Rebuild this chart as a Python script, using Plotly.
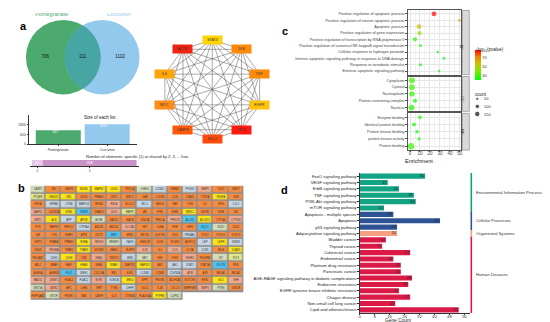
import math
import numpy as np
import plotly.graph_objects as go

W, H = 550, 322
FONT = "Arial, Liberation Sans, sans-serif"


def dom_x(a, b):
    return [a / W, b / W]


def dom_y(top, bottom):
    return [1 - bottom / H, 1 - top / H]


def pxp(x, y):
    return x / W, 1 - y / H


# ---------------- Panel a data ----------------
venn_names = ["Pomegranate", "Curcumin"]
venn_only = [706, 1102]
venn_shared = 211
list_sizes = [917, 1313]
spec_tick_labels = ["2", "1"]
spec_counts = [211, 1808]
venn_colors = ["#4DAA6E", "#93C9EC"]
venn_overlap_color = "#47A6A3"
spec_colors = ["#E6C6E4", "#C993C7"]

# ---------------- Panel b data ----------------
genes = [
    "CASP1", "BID", "CASP8", "MDM2", "MAPK3", "CDK4", "PIK3CA", "CHEK1", "CCND1", "ERBB2", "PTGS2", "MMP9", "CDK2", "MMP2",
    "PTGER", "HMOX1", "SRC", "NOS3", "PPARG", "GPX1", "BIRC5", "XIAP", "CXCR4", "CD44", "ICAM1", "TOP2A", "VEGFA", "KDR",
    "HIF1A", "HSPA5", "CTNB", "MAPK14", "NFKB1", "RELA", "BCL2L1", "MCL1", "FASLG", "FAS", "TLR4", "IL2", "IFNG", "CCL2",
    "MAPK1", "CDKN1A", "ESR1", "TGFB1", "SMAD3", "CDK1", "PARP1", "AR", "PGR", "ESR2", "NR3C1", "IGF1R", "INSR", "INS",
    "SIRT1", "ALB", "APP", "APOE", "ACHE", "BACE1", "MAOB", "GSK3A", "PRKCA", "PRKCB", "ALOX5", "ALOX15", "CYP1A1", "CYP1B1",
    "FOS", "MAPK8", "NFE2L2", "CYP3A4", "ABCB1", "ABCG2", "SLC2A1", "HK2", "LDHA", "PKM", "G6PD", "NQO1", "SOD1", "SOD2",
    "CAT", "TXN", "KEAP1", "ATF4", "DDIT3", "XBP1", "ERN1", "BECN1", "SQSTM1", "ULK1", "PRKAA1", "STK11", "FOXO1", "FOXO3",
    "SIRT3", "PPARA", "PPARD", "RXRA", "NR1H3", "SREBF1", "FASN", "HMGCR", "LDLR", "PCSK9", "ADIPOQ", "LEP", "LEPR", "IKBKB",
    "CHUK", "NFKBIA", "TRAF2", "TRAF6", "MYD88", "IRAK4", "NLRP3", "IL18", "IL4", "IL13", "IL17A", "CCR5", "SELE", "VCAM1",
    "PECAM1", "CDH1", "CDH2", "VIM", "SNAI1", "TWIST1", "ZEB1", "MET", "HGF", "FGF2", "FGFR1", "PDGFRB", "KIT", "FLT3",
    "ABL1", "BRAF", "RAF1", "HRAS", "KRAS", "NRAS", "MAP2K1", "MAP2K2", "JAK2", "JAK1", "STAT1", "STAT5A", "SOCS3", "PIM1",
    "AURKA", "AURKB", "PLK1", "WEE1", "CDC25A", "RB1", "E2F1", "CCNE1", "CCNB1", "CDKN2A", "ATM", "ATR", "BRCA1", "BRCA2",
    "RAD51", "DNMT1", "HDAC1", "HDAC2", "EZH2", "KDM1A", "BRD4", "SPP1", "PROM1", "ALDH1A1", "NOTCH1", "HES1", "GLI1", "SHH",
    "WNT3A", "AXIN2", "APC", "LGR5", "TERT", "TYMS", "DHFR", "ODC1", "IL1B", "CXCL8", "SERPINE1", "MMP3", "PTEN", "GSK3B",
    "HSP90AA1", "MTOR", "PIK3R1", "BAX", "CASP9", "IL10", "CTNNB1", "PLA2G4A", "PTPRB", "CDPK1",
]
gene_class_rows = [
    "GOOYYYOGBOBSOO",
    "PYYOOOOOOOOOYO",
    "OBBBOSOBOOOOOB",
    "SOYCOSPOOOYOOO",
    "SYBYGOOOOSCYOS",
    "OOOBOOSOOOOCGO",
    "OOOOOCOOOOBOOO",
    "OOOYSGBOOOOBYB",
    "OSOYOOOSOSOBOY",
    "OBYOSOBGOOSOGP",
    "OOOYOYOYOBBOCO",
    "OOCBOOOBOBSOOO",
    "SSOBSBYOOOOOYS",
    "GSOOOOBOOOOSGO",
    "OGOOOOOOYG",
]
class_keys = ["O", "S", "B", "G", "Y", "C", "P"]
class_colors = ["#FA8A3C", "#F5A98B", "#C6D6E4", "#D5DDB8", "#FFE414", "#4EC3EE", "#E2E68C"]

# ---------------- Panel c (network) data ----------------
hub_genes = ["STAT3", "JUN", "TNF", "EGFR", "TP53", "BCL2", "CASP3", "MYC", "IL6", "ACTB"]
hub_colors = ["#FFD400", "#FF8A0A", "#FF8A0A", "#FFC20A", "#FF1A10", "#FF4A0A", "#FF5A0A", "#FF8C1A", "#FFA50A", "#EE2410"]

# ---------------- Panel c (GO) data ----------------
bp_terms = [
    "Positive regulation of apoptotic process",
    "Positive regulation of neuron apoptotic process",
    "Apoptotic process",
    "Positive regulation of gene expression",
    "Positive regulation of transcription by RNA polymerase II",
    "Positive regulation of canonical NF-kappaB signal transduction",
    "Cellular response to hydrogen peroxide",
    "Intrinsic apoptotic signaling pathway in response to DNA damage",
    "Response to xenobiotic stimulus",
    "Extrinsic apoptotic signaling pathway",
]
bp_enrich = [24, 49.5, 9, 9.5, 5, 10.5, 28, 34, 10.5, 29]
bp_logp = [88, 62, 58, 47, 27, 22, 21, 21, 24, 21]
bp_count = [110, 40, 115, 90, 85, 40, 35, 35, 50, 35]

cc_terms = ["Cytoplasm", "Cytosol", "Nucleoplasm", "Protein-containing complex", "Nucleus"]
cc_enrich = [2, 2, 2, 5, 1.5]
cc_logp = [28, 30, 27, 22, 26]
cc_count = [170, 165, 140, 75, 160]

mf_terms = ["Enzyme binding", "Identical protein binding", "Protein kinase binding", "protein kinase activity", "Protein binding"]
mf_enrich = [10, 4, 7, 9, 1]
mf_logp = [25, 24, 22, 22, 30]
mf_count = [70, 75, 55, 55, 210]

size_legend_counts = [50, 100, 150]
logp_ticks = [30, 50, 70]

# ---------------- Panel d data ----------------
pathways = [
    "FoxO signaling pathway", "VEGF signaling pathway", "ErbB signaling pathway", "TNF signaling pathway",
    "PI3K-Akt signaling pathway", "mTOR signaling pathway", "Apoptosis - multiple species", "Apoptosis",
    "p53 signaling pathway", "Adipocytokine signaling pathway", "Bladder cancer", "Thyroid cancer",
    "Colorectal cancer", "Endometrial cancer", "Platinum drug resistance", "Pancreatic cancer",
    "AGE-RAGE signaling pathway in diabetic complications", "Endocrine resistance",
    "EGFR tyrosine kinase inhibitor resistance", "Chagas disease", "Non-small cell lung cancer",
    "Lipid and atherosclerosis",
]
pathway_counts = [35, 15, 21, 29, 30, 13, 18, 43, 20, 20, 14, 12, 27, 18, 22, 22, 28, 26, 21, 27, 19, 53]
pathway_groups = ["Environmental Information Processing"] * 6 + ["Cellular Processes"] * 3 + \
    ["Organismal Systems"] + ["Human Diseases"] * 12
group_order = ["Environmental Information Processing", "Cellular Processes", "Organismal Systems", "Human Diseases"]
group_colors = {"Environmental Information Processing": "#12A383", "Cellular Processes": "#2E5395",
                "Organismal Systems": "#F7A07F", "Human Diseases": "#DC1A48"}
count_ticks = [0, 8, 16, 24, 32, 40, 48, 56]

# ======================================================================
fig = go.Figure()
shapes = []
annotations = []
layout_axes = {}

# ---------- a: Venn ----------
R = 1.0
dcent = 1.04
for i, (cx, col) in enumerate([(0.0, venn_colors[0]), (dcent, venn_colors[1])]):
    shapes.append(dict(type="circle", xref="x", yref="y", x0=cx - R, x1=cx + R, y0=-R, y1=R,
                       fillcolor=col, line=dict(width=0), layer="below"))
xi = dcent / 2
yi = math.sqrt(R * R - xi * xi)
t1 = math.atan2(yi, xi)
t2 = math.atan2(yi, xi - dcent)
pts = []
for t in np.linspace(-t1, t1, 40):
    pts.append((R * math.cos(t), R * math.sin(t)))
for t in np.linspace(t2, 2 * math.pi - t2, 40):
    pts.append((dcent + R * math.cos(t), R * math.sin(t)))
path = "M " + " L ".join(f"{x:.4f},{y:.4f}" for x, y in pts) + " Z"
shapes.append(dict(type="path", xref="x", yref="y", path=path, fillcolor=venn_overlap_color,
                   line=dict(width=0), layer="below"))
fig.add_trace(go.Scatter(x=[(-R + dcent - R) / 2, dcent / 2, (R + dcent + R) / 2], y=[0, 0, 0],
                         text=[str(venn_only[0]), str(venn_shared), str(venn_only[1])],
                         mode="text", textfont=dict(size=4.5, color="#111", family=FONT),
                         xaxis="x", yaxis="y", showlegend=False, hoverinfo="skip"))
fig.add_trace(go.Scatter(x=[-0.31, dcent + 0.44], y=[1.13, 1.13], text=venn_names, mode="text",
                         textfont=dict(size=5.5, color=[venn_colors[0], venn_colors[1]], family=FONT),
                         xaxis="x", yaxis="y", showlegend=False, hoverinfo="skip"))
unit = 37.5
layout_axes["xaxis"] = dict(domain=dom_x(5, 140), range=[-49.5 / unit, 85.5 / unit], visible=False, fixedrange=True)
layout_axes["yaxis"] = dict(domain=dom_y(5, 95), range=[-45.5 / unit, 44.5 / unit], visible=False, fixedrange=True)

# ---------- a: size of each list ----------
fig.add_trace(go.Bar(x=venn_names, y=list_sizes, marker=dict(color=venn_colors, line=dict(width=0)),
                     width=0.92, xaxis="x2", yaxis="y2", showlegend=False, hoverinfo="skip"))
fig.add_trace(go.Scatter(x=venn_names, y=list_sizes, mode="text", text=[str(v) for v in list_sizes],
                         textposition="bottom left", textfont=dict(size=3.5, color="white", family=FONT),
                         xaxis="x2", yaxis="y2", showlegend=False, hoverinfo="skip"))
layout_axes["xaxis2"] = dict(domain=dom_x(20, 128), range=[-0.6, 1.6], showline=True, linecolor="#333",
                             linewidth=0.6, ticks="outside", ticklen=1.5, tickcolor="#333",
                             tickfont=dict(size=3.5, color="#333", family=FONT), anchor="y2")
layout_axes["yaxis2"] = dict(domain=dom_y(108, 137), range=[0, 1900], showline=True, linecolor="#333",
                             linewidth=0.6, tickvals=[0, 650, 1300], ticks="outside", ticklen=1.5,
                             tickcolor="#333", showgrid=False, zeroline=False,
                             tickfont=dict(size=3.5, color="#333", family=FONT), anchor="x2")
annotations.append(dict(text="Size of each list", x=pxp(73, 110)[0], y=pxp(73, 110)[1], xref="paper",
                        yref="paper", showarrow=False, font=dict(size=4.5, color="#222", family=FONT)))

# ---------- a: specific/shared ----------
base = 0
centers = []
for lab, v, c in zip(spec_tick_labels, spec_counts, spec_colors):
    fig.add_trace(go.Bar(y=[0], x=[v], base=[base], orientation="h", marker=dict(color=c, line=dict(width=0)),
                         width=1.0, xaxis="x3", yaxis="y3", showlegend=False, hoverinfo="skip"))
    centers.append(base + v / 2)
    base += v
fig.add_trace(go.Scatter(x=centers, y=[0, 0], mode="text", text=[str(v) for v in spec_counts],
                         textfont=dict(size=3, color="white", family=FONT),
                         xaxis="x3", yaxis="y3", showlegend=False, hoverinfo="skip"))
layout_axes["xaxis3"] = dict(domain=dom_x(21, 130), range=[-38, sum(spec_counts) + 38], showline=True,
                             linecolor="#333", linewidth=0.5, tickvals=centers, ticktext=spec_tick_labels,
                             ticks="outside", ticklen=1.5, tickcolor="#333", showgrid=False, zeroline=False,
                             tickfont=dict(size=3.5, color="#333", family=FONT), anchor="y3")
layout_axes["yaxis3"] = dict(domain=dom_y(153, 159), range=[-0.5, 0.5], visible=False, anchor="x3")
annotations.append(dict(text="Number of elements: specific (1) or shared by 2, 3, ... lists",
                        x=pxp(75, 149)[0], y=pxp(75, 149)[1], xref="paper", yref="paper", showarrow=False,
                        font=dict(size=4, color="#222", family=FONT)))

# ---------- b: gene grid ----------
ncol = 14
nrow = len(gene_class_rows)
z = []
txt = []
gi = 0
for r, row in enumerate(gene_class_rows):
    zr, tr = [], []
    for c in range(ncol):
        if c < len(row):
            zr.append(class_keys.index(row[c]))
            tr.append(genes[gi] if gi < len(genes) else "")
            gi += 1
        else:
            zr.append(None)
            tr.append("")
    z.append(zr)
    txt.append(tr)
ncls = len(class_colors)
cscale = []
for k, col in enumerate(class_colors):
    cscale.append([k / ncls, col])
    cscale.append([(k + 1) / ncls, col])
fig.add_trace(go.Heatmap(z=z, text=txt, texttemplate="%{text}", textfont=dict(size=2.6, color="#333", family=FONT),
                         colorscale=cscale, zmin=-0.5, zmax=ncls - 0.5, showscale=False, xgap=1.6, ygap=1.6,
                         xaxis="x4", yaxis="y4", hoverinfo="skip"))
last_len = len(gene_class_rows[-1])
shapes.append(dict(type="rect", xref="x4", yref="y4", x0=-0.5, x1=ncol - 0.5, y0=-0.5, y1=nrow - 1.5,
                   fillcolor="#8C8C8C", line=dict(width=0), layer="below"))
shapes.append(dict(type="rect", xref="x4", yref="y4", x0=-0.5, x1=last_len - 0.5, y0=nrow - 1.5, y1=nrow - 0.5,
                   fillcolor="#8C8C8C", line=dict(width=0), layer="below"))
layout_axes["xaxis4"] = dict(domain=dom_x(21, 236), range=[-0.55, ncol - 0.45], visible=False, anchor="y4")
layout_axes["yaxis4"] = dict(domain=dom_y(178.5, 294), range=[nrow - 0.45, -0.55], visible=False, anchor="x4")

# ---------- c: network ----------
nn = len(hub_genes)
angles = [math.pi / 2 - 2 * math.pi * k / nn for k in range(nn)]
nx_ = [math.cos(a) for a in angles]
ny_ = [math.sin(a) for a in angles]
ex, ey = [], []
for i in range(nn):
    for j in range(i + 1, nn):
        ex += [nx_[i], nx_[j], None]
        ey += [ny_[i], ny_[j], None]
fig.add_trace(go.Scatter(x=ex, y=ey, mode="lines", line=dict(color="#555", width=0.5),
                         xaxis="x5", yaxis="y5", showlegend=False, hoverinfo="skip"))
for g, c, x, y in zip(hub_genes, hub_colors, nx_, ny_):
    annotations.append(dict(text=g, x=x, y=y, xref="x5", yref="y5", showarrow=False, bgcolor=c,
                            width=19, height=8, borderpad=0, font=dict(size=3.6, color="#333", family=FONT)))
layout_axes["xaxis5"] = dict(domain=dom_x(144, 264), range=[-1.2, 1.2], visible=False, anchor="y5")
layout_axes["yaxis5"] = dict(domain=dom_y(22, 142), range=[-1.2, 1.2], visible=False, anchor="x5")

# ---------- c: GO dot plot ----------
CMIN, CMAX = 20, 88
go_scale = [[0, "#00FF00"], [0.3, "#7FE800"], [0.55, "#C8C000"], [0.78, "#F08000"], [1, "#FF0000"]]


def dot_size(v):
    return 0.45 * math.sqrt(v)


facets = [("BP", bp_terms, bp_enrich, bp_logp, bp_count, 2.5, 67),
          ("CC", cc_terms, cc_enrich, cc_logp, cc_count, 69, 104),
          ("MF", mf_terms, mf_enrich, mf_logp, mf_count, 106, 143)]
for k, (name, terms, en, lp, cnt, top, bot) in enumerate(facets):
    xa = f"x{6 + k}"
    ya = f"y{6 + k}"
    fig.add_trace(go.Scatter(
        x=en, y=terms, mode="markers",
        marker=dict(size=[dot_size(v) for v in cnt], color=lp, colorscale=go_scale, cmin=CMIN, cmax=CMAX,
                    line=dict(width=0), showscale=(k == 0),
                    colorbar=dict(x=pxp(468, 0)[0], xanchor="left", y=pxp(0, 42)[1], yanchor="top",
                                  len=30, lenmode="pixels", thickness=6, thicknessmode="pixels",
                                  tickvals=logp_ticks, ticks="", outlinewidth=0,
                                  tickfont=dict(size=4, color="#333", family=FONT),
                                  xpad=0, ypad=0)),
        xaxis=xa, yaxis=ya, showlegend=False, hoverinfo="skip"))
    n = len(terms)
    layout_axes[f"xaxis{6 + k}"] = dict(
        domain=dom_x(400, 454), range=[-2.5, 51.5], anchor=ya, showline=True, mirror=True,
        linecolor="#555", linewidth=0.6, showgrid=True, gridcolor="#E6E6E6", gridwidth=0.5,
        tickvals=[0, 10, 20, 30, 40, 50], zeroline=False,
        minor=dict(tickvals=[5, 15, 25, 35, 45], showgrid=True, gridcolor="#F2F2F2", gridwidth=0.4),
        showticklabels=(k == 2), ticks="outside" if k == 2 else "", ticklen=1, tickcolor="#555",
        ticklabelstandoff=-2,
        tickfont=dict(size=4.5, color="#444", family=FONT))
    layout_axes[f"yaxis{6 + k}"] = dict(
        domain=dom_y(top, bot), range=[n - 0.45, -0.55], anchor=xa, showline=True, mirror=True,
        linecolor="#555", linewidth=0.6, showgrid=True, gridcolor="#E6E6E6", gridwidth=0.5,
        ticks="outside", ticklen=1.5, tickcolor="#555", type="category",
        tickfont=dict(size=3.8, color="#444", family=FONT))
    shapes.append(dict(type="rect", xref="paper", yref="paper", x0=455 / W, x1=462 / W,
                       y0=1 - bot / H, y1=1 - top / H, fillcolor="#D9D9D9", line=dict(color="#666", width=0.5)))
    annotations.append(dict(text=name, x=458.5 / W, y=1 - (top + bot) / 2 / H, xref="paper", yref="paper",
                            showarrow=False, textangle=90, font=dict(size=3.8, color="#333", family=FONT)))
annotations.append(dict(text="Enrichment", x=428 / W, y=1 - 153.5 / H, xref="paper", yref="paper",
                        showarrow=False, font=dict(size=5.5, color="#222", family=FONT)))
annotations.append(dict(text="-log<sub>10</sub>(pvalue)", x=467 / W, y=1 - 37 / H, xref="paper", yref="paper",
                        xanchor="left", showarrow=False, font=dict(size=4.5, color="#222", family=FONT)))

# size legend
fig.add_trace(go.Scatter(x=[0, 0, 0], y=[0, 1, 2], mode="markers",
                         marker=dict(size=[dot_size(v) for v in size_legend_counts], color="#111"),
                         xaxis="x10", yaxis="y10", showlegend=False, hoverinfo="skip"))
for i, v in enumerate(size_legend_counts):
    annotations.append(dict(text=str(v), x=0.9, y=i, xref="x10", yref="y10", xanchor="left", showarrow=False,
                            borderpad=0, font=dict(size=4, color="#333", family=FONT)))
layout_axes["xaxis10"] = dict(domain=dom_x(467, 500), range=[-0.5, 5], visible=False, anchor="y10")
layout_axes["yaxis10"] = dict(domain=dom_y(87.5, 110.5), range=[2.5, -0.5], visible=False, anchor="x10")
annotations.append(dict(text="count", x=467 / W, y=1 - 84 / H, xref="paper", yref="paper", xanchor="left",
                        borderpad=0, showarrow=False, font=dict(size=4.5, color="#222", family=FONT)))

# ---------- d: KEGG bars ----------
bar_cols = [group_colors[g] for g in pathway_groups]
fig.add_trace(go.Bar(y=pathways, x=pathway_counts, orientation="h",
                     marker=dict(color=bar_cols, line=dict(width=0)), width=0.8,
                     xaxis="x9", yaxis="y9", showlegend=False, hoverinfo="skip"))
fig.add_trace(go.Scatter(y=pathways, x=pathway_counts, mode="text", text=[str(v) + " " for v in pathway_counts],
                         textposition="middle left", textfont=dict(size=4, color="#222", family=FONT),
                         xaxis="x9", yaxis="y9", showlegend=False, hoverinfo="skip"))
layout_axes["xaxis9"] = dict(domain=dom_x(352, 463), range=[0, 59.2], anchor="y9", showline=True,
                             linecolor="#333", linewidth=0.6, tickvals=count_ticks, ticks="outside",
                             ticklen=1, tickcolor="#333", showgrid=False, zeroline=False,
                             ticklabelstandoff=-2,
                             tickfont=dict(size=4.3, color="#333", family=FONT))
layout_axes["yaxis9"] = dict(domain=dom_y(166, 307), range=[len(pathways) - 0.5, -0.5], anchor="x9",
                             type="category", showline=True, linecolor="#333", linewidth=0.6, ticks="outside",
                             ticklen=1.5, tickcolor="#333", showgrid=False,
                             tickfont=dict(size=4.2, color="#222", family=FONT))
annotations.append(dict(text="Gene Count", x=406 / W, y=1 - 318.5 / H, xref="paper", yref="paper",
                        showarrow=False, font=dict(size=4.8, color="#222", family=FONT)))
for g in group_order:
    idx = [i for i, gg in enumerate(pathway_groups) if gg == g]
    shapes.append(dict(type="line", xref="paper", yref="y9", x0=464 / W, x1=464 / W,
                       y0=min(idx) - 0.5, y1=max(idx) + 0.5, line=dict(color=group_colors[g], width=1.6)))
    annotations.append(dict(text=g, xref="paper", yref="y9", x=467 / W, y=(min(idx) + max(idx)) / 2,
                            xanchor="left", showarrow=False, font=dict(size=4.2, color="#333", family=FONT)))

# ---------- panel letters ----------
for lab, x, y in [("a", 9, 10), ("b", 7, 181), ("c", 277, 15), ("d", 277, 183)]:
    annotations.append(dict(text=f"<b>{lab}</b>", x=x / W, y=1 - y / H, xref="paper", yref="paper",
                            showarrow=False, font=dict(size=11, color="#000", family=FONT)))

fig.update_layout(width=W, height=H, margin=dict(l=0, r=0, t=0, b=0), paper_bgcolor="white",
                  plot_bgcolor="white", shapes=shapes, annotations=annotations, barmode="overlay",
                  font=dict(family=FONT), **layout_axes)
fig.write_html("out.html")
